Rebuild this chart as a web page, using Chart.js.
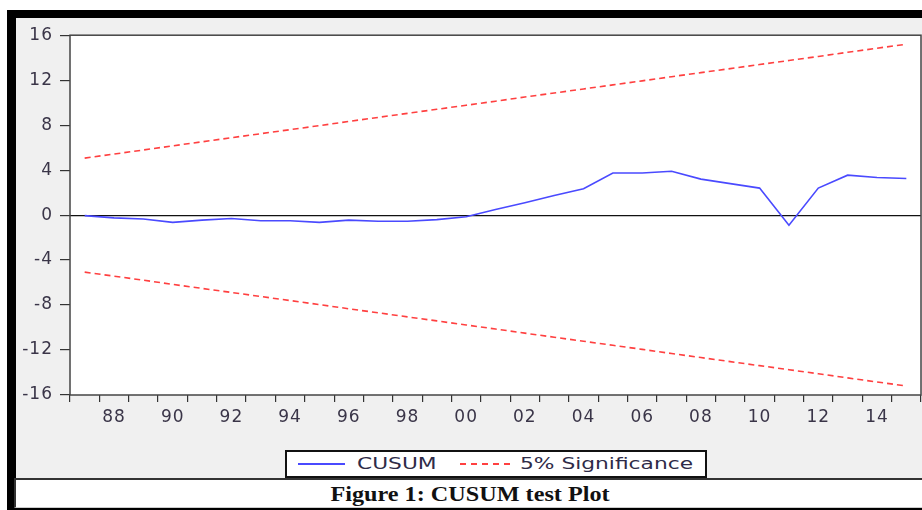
<!DOCTYPE html>
<html>
<head>
<meta charset="utf-8">
<script src="https://cdn.jsdelivr.net/npm/chart.js@4/dist/chart.umd.min.js"></script>
<style>
  html, body { margin: 0; padding: 0; background: #fff; }
  body { width: 922px; height: 510px; position: relative; overflow: hidden; }
  #frame { position: absolute; left: 7px; top: 10px; right: 0; bottom: 0; background: #000; }
  #panel { position: absolute; left: 16px; top: 18px; width: 906px; height: 460px; background: #f0f0f0; }
  #cusum { position: absolute; left: 0; top: 0; }
  #legend {
    position: absolute; left: 285px; top: 450px; width: 422px; height: 28px;
    box-sizing: border-box; border: 2px solid #111; background: #fff;
    font-family: "DejaVu Sans", sans-serif; font-size: 15px; color: #2e2b48;
  }
  #legend .txt { position: absolute; top: 3px; transform: scaleX(1.45); transform-origin: left center; white-space: nowrap; }
  #legend .ln { position: absolute; top: 11px; height: 0; }
  #caption {
    position: absolute; left: 14px; top: 478px; width: 908px; height: 30px;
    box-sizing: border-box; background: #fff; border-top: 2px solid #333; border-left: 2px solid #333;
    border-bottom: 1px solid #ccc;
  }
  #caption span {
    position: absolute; left: 454px; top: 1px; transform: translateX(-50%) scaleX(1.1);
    font-family: "Liberation Serif", serif; font-weight: bold; font-size: 22px; color: #111; white-space: nowrap;
  }
</style>
</head>
<body>
<div id="frame"></div>
<div id="panel"><canvas id="cusum" width="906" height="460"></canvas></div>
<div id="legend">
  <div class="ln" style="left:11px; width:47px; border-top:2px solid #4a4aff;"></div>
  <div class="txt" style="left:70px;">CUSUM</div>
  <div class="ln" style="left:173px; width:50px; border-top:2px dashed #ff4040;"></div>
  <div class="txt" style="left:233px;">5% Significance</div>
</div>
<div id="caption"><span>Figure 1: CUSUM test Plot</span></div>

<script>
// Годы (центры наблюдений)
const years = [1987, 1988, 1989, 1990, 1991, 1992, 1993, 1994, 1995, 1996,
               1997, 1998, 1999, 2000, 2001, 2002, 2003, 2004, 2005, 2006,
               2007, 2008, 2009, 2010, 2011, 2012, 2013, 2014, 2015];

// CUSUM
const cusum = [-0.05, -0.25, -0.35, -0.65, -0.45, -0.3, -0.5, -0.5, -0.65, -0.45,
               -0.55, -0.55, -0.4, -0.15, 0.5, 1.1, 1.75, 2.35, 3.75, 3.75,
               3.9, 3.2, 2.8, 2.4, -0.9, 2.4, 3.55, 3.35, 3.25];

// Границы 5% значимости
const upper5 = [5.07, 5.43, 5.79, 6.16, 6.52, 6.88, 7.24, 7.60, 7.96, 8.33,
                8.69, 9.05, 9.41, 9.77, 10.13, 10.50, 10.86, 11.22, 11.58, 11.94,
                12.31, 12.67, 13.03, 13.39, 13.75, 14.11, 14.48, 14.84, 15.20];
const lower5 = [-5.07, -5.43, -5.79, -6.16, -6.52, -6.88, -7.24, -7.60, -7.96, -8.33,
                -8.69, -9.05, -9.41, -9.77, -10.13, -10.50, -10.86, -11.22, -11.58, -11.94,
                -12.31, -12.67, -13.03, -13.39, -13.75, -14.11, -14.48, -14.84, -15.20];

// Подписи оси Y
const yTicks = [-16, -12, -8, -4, 0, 4, 8, 12, 16];

const textColor = '#3a3548';

// Рамка области графика + растянутый текст делений
const framePlugin = {
  id: 'frame',
  beforeDraw(chart) {
    const ctx = chart.ctx;
    ctx.fillStyle = '#fff';
    const a = chart.chartArea;
    ctx.fillRect(a.left, a.top, a.right - a.left, a.bottom - a.top);
    ctx.letterSpacing = '1px';
  },
  afterDraw(chart) {
    const ctx = chart.ctx;
    const a = chart.chartArea;
    ctx.letterSpacing = '0px';
    ctx.save();
    ctx.strokeStyle = '#444';
    ctx.lineWidth = 1.5;
    ctx.strokeRect(a.left, a.top, a.right - a.left, a.bottom - a.top);
    ctx.restore();
  }
};

new Chart(document.getElementById('cusum'), {
  type: 'line',
  data: {
    labels: years,
    datasets: [
      {
        label: 'CUSUM',
        data: cusum,
        borderColor: '#4a4aff',
        borderWidth: 1.6,
        pointRadius: 0,
        tension: 0
      },
      {
        label: '5% Significance',
        data: upper5,
        borderColor: '#ff4040',
        borderWidth: 1.6,
        borderDash: [6, 4],
        pointRadius: 0,
        tension: 0
      },
      {
        label: '5% Significance (lower)',
        data: lower5,
        borderColor: '#ff4040',
        borderWidth: 1.6,
        borderDash: [6, 4],
        pointRadius: 0,
        tension: 0
      }
    ]
  },
  options: {
    responsive: false,
    animation: false,
    layout: { padding: { top: 15, right: 1, left: 0, bottom: 0 } },
    plugins: { legend: { display: false }, tooltip: { enabled: false } },
    scales: {
      x: {
        type: 'category',
        offset: true,
        border: { display: false },
        grid: { offset: true, drawOnChartArea: false, tickLength: 7, tickColor: '#333', lineWidth: 1.2 },
        ticks: {
          autoSkip: false,
          maxRotation: 0,
          padding: 5,
          color: textColor,
          font: { family: 'DejaVu Sans', size: 17 },
          callback: function (val) {
            const y = years[val];
            return y % 2 === 0 ? String(y).slice(2) : '';
          }
        },
        afterFit: s => { s.height = 83; }
      },
      y: {
        min: -16,
        max: 16,
        border: { display: false },
        afterBuildTicks: s => { s.ticks = yTicks.map(v => ({ value: v })); },
        grid: {
          color: c => (c.tick && c.tick.value === 0 ? '#111' : 'rgba(0,0,0,0)'),
          tickColor: '#333',
          tickLength: 10,
          lineWidth: 1.2
        },
        ticks: {
          padding: 7,
          color: textColor,
          font: { family: 'DejaVu Sans', size: 17 }
        },
        afterFit: s => { s.width = 54; }
      }
    }
  },
  plugins: [framePlugin]
});
</script>
</body>
</html>
